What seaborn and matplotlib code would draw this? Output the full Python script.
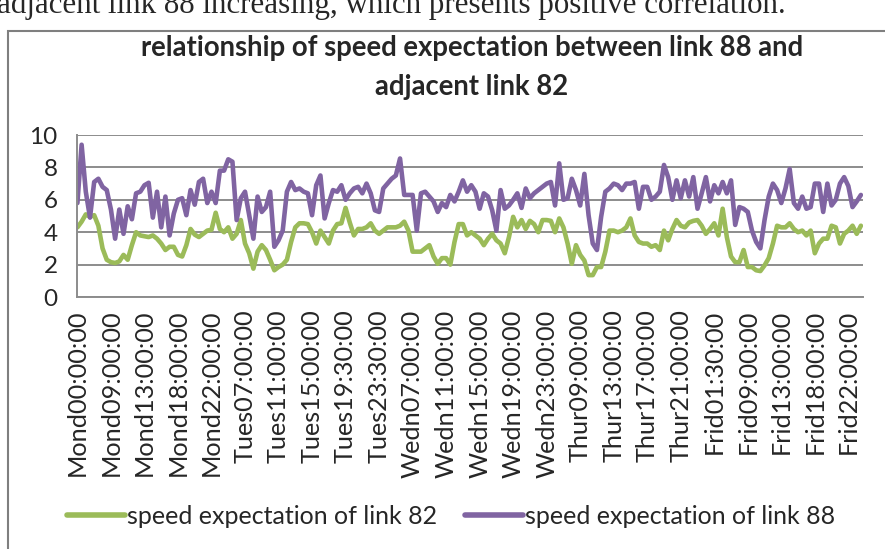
import numpy as np
import pandas as pd
import matplotlib
matplotlib.use("Agg")
import matplotlib.pyplot as plt
from matplotlib.patches import Rectangle
import seaborn as sns

# speed expectation (one value per ~half tick)
link_88 = [
    5.8, 9.4, 6.5, 4.9, 7.1, 7.3, 6.8, 6.6, 5.4, 3.6,
    5.4, 3.9, 5.6, 4.8, 6.4, 6.5, 6.9, 7.05, 4.9, 6.5,
    4.3, 6.2, 3.8, 5.15, 6.0, 6.1, 5.05, 6.6, 5.7, 7.1,
    7.3, 5.8, 6.5, 5.8, 7.8, 7.8, 8.5, 8.35, 4.75, 6.1,
    6.5, 5.05, 3.6, 6.2, 5.25, 5.55, 6.5, 3.1, 3.5, 4.1,
    6.5, 7.1, 6.6, 6.7, 6.5, 6.4, 5.05, 6.9, 7.5, 4.85,
    5.8, 6.6, 6.5, 6.9, 6.0, 6.4, 6.7, 6.8, 6.4, 7.0,
    6.4, 5.35, 5.25, 6.7, 7.0, 7.3, 7.5, 8.55, 6.3, 6.3,
    6.3, 4.1, 6.4, 6.5, 6.2, 5.9, 5.25, 5.8, 5.55, 6.3,
    5.9, 6.5, 7.2, 6.5, 6.9, 6.5, 5.45, 6.4, 6.2, 5.35,
    4.1, 6.6, 5.45, 5.65, 6.0, 6.4, 5.5, 6.7, 6.1, 6.4,
    6.6, 6.8, 7.0, 7.1, 5.65, 8.25, 6.0, 6.1, 7.3, 6.6,
    5.65, 7.6, 5.05, 3.3, 2.9, 4.95, 6.5, 6.7, 7.0, 6.9,
    6.6, 7.0, 7.0, 7.1, 5.45, 6.8, 6.8, 6.0, 6.2, 6.5,
    8.15, 7.4, 6.0, 7.2, 6.1, 7.2, 6.2, 7.4, 5.45, 6.4,
    7.4, 5.9, 6.9, 6.4, 7.1, 6.4, 7.2, 4.45, 5.55, 5.45,
    5.25, 4.1, 3.4, 3.0, 4.75, 6.2, 7.0, 6.6, 5.8, 6.7,
    7.9, 5.8, 5.45, 6.2, 5.45, 5.55, 7.0, 7.0, 5.25, 7.0,
    5.65, 6.0, 7.0, 7.4, 6.85, 5.55, 5.9, 6.3,
]
link_82 = [
    4.3, 4.65, 5.1, 4.95, 5.05, 4.4, 3.0, 2.3, 2.15, 2.1,
    2.2, 2.6, 2.3, 3.2, 4.0, 3.8, 3.75, 3.7, 3.8, 3.6,
    3.3, 2.9, 3.1, 3.1, 2.6, 2.5, 3.2, 4.2, 3.85, 3.7,
    3.9, 4.1, 4.15, 5.2, 4.2, 4.0, 4.3, 3.6, 3.9, 4.75,
    3.3, 2.7, 1.75, 2.8, 3.2, 2.9, 2.3, 1.65, 1.85, 2.0,
    2.3, 3.4, 4.3, 4.55, 4.55, 4.5, 4.0, 3.3, 4.1, 3.7,
    3.3, 4.1, 4.5, 4.55, 5.5, 4.6, 3.8, 4.2, 4.2, 4.3,
    4.55, 4.1, 3.9, 4.1, 4.3, 4.3, 4.3, 4.4, 4.65, 4.1,
    2.8, 2.8, 2.8, 3.0, 3.2, 2.5, 2.05, 2.4, 2.4, 2.0,
    3.4, 4.5, 4.5, 3.8, 4.0, 3.8, 3.6, 3.2, 3.6, 3.9,
    3.5, 3.3, 2.7, 3.7, 4.95, 4.3, 4.75, 4.2, 4.7, 4.5,
    4.0, 4.75, 4.75, 4.7, 4.0, 4.85, 4.3, 3.3, 2.05, 3.2,
    2.6, 2.25, 1.35, 1.35, 1.85, 1.85, 2.8, 4.1, 4.1, 4.0,
    4.1, 4.3, 4.85, 3.8, 3.4, 3.3, 3.3, 3.1, 3.2, 2.9,
    4.1, 3.5, 4.2, 4.75, 4.4, 4.3, 4.6, 4.7, 4.75, 4.4,
    3.9, 4.2, 4.55, 3.8, 5.45, 3.7, 2.5, 2.15, 2.15, 2.9,
    1.85, 1.85, 1.65, 1.6, 1.95, 2.4, 3.3, 4.4, 4.3, 4.3,
    4.55, 4.2, 4.0, 4.1, 3.8, 4.1, 2.7, 3.3, 3.6, 3.6,
    4.4, 4.3, 3.3, 3.9, 4.1, 4.4, 3.9, 4.4,
]
tick_labels = [
    "Mond00:00:00", "Mond09:00:00", "Mond13:00:00", "Mond18:00:00",
    "Mond22:00:00", "Tues07:00:00", "Tues11:00:00", "Tues15:00:00",
    "Tues19:30:00", "Tues23:30:00", "Wedn07:00:00", "Wedn11:00:00",
    "Wedn15:00:00", "Wedn19:00:00", "Wedn23:00:00", "Thur09:00:00",
    "Thur13:00:00", "Thur17:00:00", "Thur21:00:00", "Frid01:30:00",
    "Frid09:00:00", "Frid13:00:00", "Frid18:00:00", "Frid22:00:00",
]
label_step = 8

df = pd.DataFrame({
    "t": np.arange(len(link_82)),
    "speed expectation of link 82": link_82,
    "speed expectation of link 88": link_88,
})
long = df.melt(id_vars="t", var_name="series", value_name="speed")

sns.set_style("white")
plt.rcParams["font.family"] = ["Lato", "DejaVu Sans"]

fig = plt.figure(figsize=(8.85, 5.49), dpi=100)
ax = fig.add_axes([77 / 885, 1 - 297 / 549, 786 / 885, 162 / 549])

sns.lineplot(data=long, x="t", y="speed", hue="series",
             palette=["#9BBB59", "#8064A2"], linewidth=3.3, ax=ax,
             legend=True)

gray = "#8c8c8c"
ax.set_ylim(0, 10)
ax.set_xlim(-0.1, len(link_82) - 0.9)
ax.set_yticks(range(0, 11, 2))
ax.yaxis.grid(True, color=gray, linewidth=1.4)
ax.set_axisbelow(True)
for s in ["top", "right"]:
    ax.spines[s].set_visible(False)
for s in ["left", "bottom"]:
    ax.spines[s].set_color(gray)
    ax.spines[s].set_linewidth(1.4)

ax.set_xticks(np.arange(len(tick_labels)) * label_step)
ax.set_xticklabels(tick_labels, rotation=90, fontsize=18.2)
ax.set_xticks(np.arange(0, len(link_82), 0.5), minor=True)
ax.tick_params(axis="x", which="both", length=6, width=1.1, color=gray,
               direction="out", pad=3)
ax.tick_params(axis="y", length=6, width=1.4, color=gray, labelsize=17.5, pad=8)
ax.set_xlabel("")
ax.set_ylabel("")

leg = ax.legend(loc="center", bbox_to_anchor=(0.51, 1 - 516 / 549),
                bbox_transform=fig.transFigure, ncol=2, frameon=False,
                fontsize=18, handlelength=2.3, handletextpad=0.1,
                columnspacing=1.1)
for line in leg.get_lines():
    line.set_linewidth(4)

fig.text(472 / 885, 1 - 48 / 549,
         "relationship of speed expectation between link 88 and",
         ha="center", va="center", fontsize=19.8, fontweight="bold")
fig.text(472 / 885, 1 - 87 / 549, "adjacent link 82",
         ha="center", va="center", fontsize=19.8, fontweight="bold")

# clipped sentence from the page above the chart
fig.text(-3 / 885, 1 - 13 / 549,
         "adjacent link 88 increasing, which presents positive correlation.",
         ha="left", va="baseline", fontsize=22.3, family="Liberation Serif")

fig.patches.append(Rectangle((8 / 885, -0.05), 1.0, 0.05 + (1 - 31 / 549),
                             transform=fig.transFigure, fill=False,
                             edgecolor="#7f7f7f", linewidth=1.5))

fig.savefig("out.png", dpi=100)
